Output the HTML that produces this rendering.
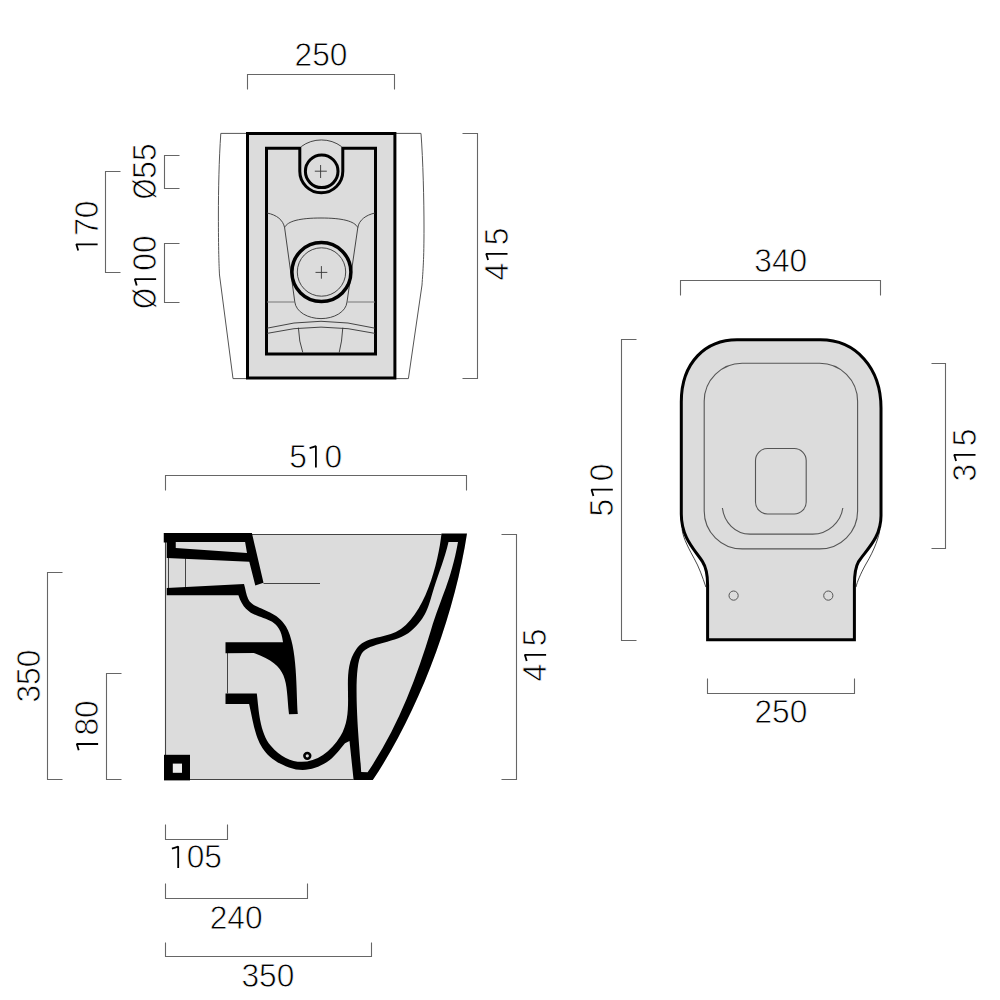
<!DOCTYPE html>
<html><head><meta charset="utf-8">
<style>
html,body{margin:0;padding:0;background:#fff;width:1000px;height:1000px;overflow:hidden}
svg{display:block}
text{font-family:"Liberation Sans",sans-serif;font-size:33px;fill:#000;stroke:#fff;stroke-width:0.75px}
</style></head><body>
<svg width="1000" height="1000" viewBox="0 0 1000 1000">
<!-- ============ TOP VIEW ============ -->
<g id="top">
  <path d="M247.5,133.4 L220.8,133.4 C219,160 218.4,190 218.4,215 C218.4,250 219,265 219.5,275 L233,378.6 L247.5,378.6" fill="none" stroke="#555" stroke-width="1"/>
  <path d="M394.9,133.4 L421,133.4 C423,160 424,200 424,228 C424,260 423,270 422,285 L408.4,378.6 L394.9,378.6" fill="none" stroke="#555" stroke-width="1"/>
  <rect x="247.5" y="133.5" width="147.4" height="244.5" fill="#dcdcdc" stroke="#000" stroke-width="3"/>
  <!-- inner rect with U notch -->
  <path d="M299.8,148.2 L266.5,148.2 L266.5,354 L375.5,354 L375.5,148.2 L342.8,148.2 L342.8,171.3 A21.5,21.5 0 0 1 299.8,171.3 Z" fill="none" stroke="#000" stroke-width="3"/>
  <path d="M301.2,146.6 A34,34 0 0 1 341.6,146.6" fill="none" stroke="#333" stroke-width="0.9"/>
  <circle cx="321.7" cy="171.3" r="16.3" fill="none" stroke="#000" stroke-width="3"/>
  <path d="M314.8,171.2 H326.8 M320.6,165 V178" stroke="#333" stroke-width="0.9"/>
  <!-- funnel -->
  <path d="M267,213 C277,215 283,220 284.6,227.6 C287.5,221 300,218 321,218 C342,218 354.5,221 357.8,227.6 C359,220 366,215 375,213" fill="none" stroke="#333" stroke-width="0.9"/>
  <path d="M284.6,227.6 L294.8,302 C296,312 308,318.6 321,318.6 C334,318.6 346,312 347,302 L357.8,227.6" fill="none" stroke="#333" stroke-width="0.9"/>
  <path d="M267,302 H294.5 M347.3,302 H375" stroke="#777" stroke-width="1"/>
  <circle cx="321.4" cy="272.1" r="29.5" fill="#dcdcdc" stroke="#000" stroke-width="3.5"/>
  <circle cx="321.5" cy="272" r="24.2" fill="none" stroke="#333" stroke-width="0.9"/>
  <path d="M315.5,272.4 H327.3 M321.4,266.1 V278.7" stroke="#333" stroke-width="0.9"/>
  <path d="M267,328.2 A218,218 0 0 1 375,328.2" fill="none" stroke="#333" stroke-width="0.9"/>
  <path d="M267,333.4 A238,238 0 0 1 375,333.4" fill="none" stroke="#333" stroke-width="0.9"/>
  <path d="M298.4,327.7 Q299,342 302.8,352.5 M342.8,327.7 Q342,342 339.2,352.5" fill="none" stroke="#333" stroke-width="0.9"/>
</g>
<!-- top view dims -->
<g fill="none" stroke="#666" stroke-width="1.1">
  <path d="M247.5,89.5 V74.5 H394.5 V89.5"/>
  <path d="M179.5,155.5 H164.5 V188.5 H179.5"/>
  <path d="M179.5,243.5 H164.5 V302.5 H179.5"/>
  <path d="M120.5,171.5 H105.5 V272.5 H120.5"/>
  <path d="M462.5,133.5 H477.5 V378.5 H462.5"/>
</g>


<g id="side">
  <path d="M165.5,534.5 H467 L467.0,533.5 C454.3,616.3 419.0,710.9 372.8,780.1 L165.5,779.5 Z" fill="#dcdcdc"/>
  <path d="M252,534.5 H441.5 M165.5,542 V779.5 H353.6" fill="none" stroke="#444" stroke-width="1.1"/>
  <path d="M168.5,558 V588 M185.5,558 V588 M227.5,653 V693.4 M263.5,583.5 H320" fill="none" stroke="#444" stroke-width="1"/>
  <path fill-rule="evenodd" d="M163.75,533.1 H251.9 L263.5,582.8 L255.3,585.4 L249.3,561.8 L166.75,558 L166.75,542.6 H163.75 Z M175.75,542 H245.1 L247,553.1 L175.75,547.9 Z" fill="#000"/>
  <path d="M166.75,588 L244.0,583.9 C245.5,588.9 246.1,594.3 248.2,599.1 C252.9,609.9 275.1,608.5 286.0,626.4 C297.8,645.9 296.1,692.1 297.8,714.0 L289.0,714.3 C285.6,679.8 289.4,666.1 254.0,653.1 L225.5,653.15 L225.5,642.2 L283.0,642.2 C279.2,607.5 248.7,627.9 238.4,595.2 L166.75,595.25 Z" fill="#000"/>
  <path fill-rule="evenodd" d="M225.5,703.9 L249.1,703.9 C255.8,733.3 256.2,755.5 289.0,767.4 C302.4,772.3 315.0,769.7 327.0,762.1 C333.7,757.8 340.1,749.0 345.0,743.2 L349.5,741 L353.6,780.1 L372.8,780.1 C419.0,710.9 454.3,616.3 467.0,533.5 L441.5,533.5 C438.6,561.8 424.7,617.7 395.8,632.1 C383.0,638.5 365.2,636.5 356.2,649.2 C339.0,673.6 356.7,709.1 340.5,736.0 C323.9,763.6 293.6,772.5 270.8,745.7 C259.6,732.6 258.8,709.5 256.8,693.4 L225.5,693.4 Z M448.5,542.0 C444.9,558.2 438.9,572.3 434.0,588.0 C428.0,607.3 427.0,617.0 411.0,631.0 C397.0,643.3 368.6,642.4 361.6,653.7 C351.0,670.6 360.3,754.1 361.2,772.0 L367.6,772.2 C397.1,729.2 415.9,679.5 431.0,630.0 C441.5,595.6 450.7,582.1 458.0,542.0 Z" fill="#000"/>
  <rect x="164" y="754.8" width="26" height="25.6" fill="#000"/>
  <rect x="172.8" y="763.6" width="9.2" height="9.2" fill="#ececec"/>
  <circle cx="307.3" cy="755.85" r="2.9" fill="none" stroke="#000" stroke-width="2.6"/>
</g>
<g fill="none" stroke="#666" stroke-width="1.1">
  <path d="M165.5,490.5 V475.5 H466.5 V490.5"/>
  <path d="M501.5,534.5 H516.5 V779.5 H501.5"/>
  <path d="M62.5,572.5 H47.5 V779.5 H62.5"/>
  <path d="M121.5,673.5 H106.5 V779.5 H121.5"/>
  <path d="M165.5,824.5 V839.5 H227.5 V824.5"/>
  <path d="M165.5,883.5 V898.5 H307.5 V883.5"/>
  <path d="M165.5,942.5 V956.5 H371.5 V942.5"/>
</g>


<g id="front">
  <path d="M682.1,529.3 C683,536 685.5,542.9 694,558.2 C699,567 702.5,576.9 705.9,587.1" fill="none" stroke="#333" stroke-width="0.9"/>
  <path d="M879.9,529.3 C879,536 875.6,548 865.4,565 C861,573 857,582 856,587.1" fill="none" stroke="#333" stroke-width="0.9"/>
  <path d="M737,339.8 H820.4 C856,339.8 881,368 881,408 V515.7 C881,538 866,550 858.6,561.6 C855.5,567 854.4,574 854.4,585 V639.8 H707.6 V585 C707.6,574 706,567 702.5,561.6 C695,550 681.3,538 681.3,514 V402 C681.3,362 706,339.8 737,339.8 Z" fill="#dcdcdc" stroke="#000" stroke-width="3"/>
  <rect x="704.2" y="363.2" width="153.4" height="185.7" rx="38" ry="38" fill="none" stroke="#555" stroke-width="1.1"/>
  <path d="M722.4,508 C724,522 735,534.1 750.1,534.1 H812.7 C828,534.1 841,522 842.8,508" fill="none" stroke="#555" stroke-width="1.1"/>
  <rect x="755.5" y="448.5" width="50.7" height="65.5" rx="12" ry="12" fill="none" stroke="#555" stroke-width="1.1"/>
  <circle cx="733.6" cy="595.6" r="4.6" fill="none" stroke="#555" stroke-width="1"/>
  <circle cx="828.3" cy="595.6" r="4.6" fill="none" stroke="#555" stroke-width="1"/>
</g>
<g fill="none" stroke="#666" stroke-width="1.1">
  <path d="M680.5,295.5 V280.5 H880.5 V295.5"/>
  <path d="M636.5,339.5 H621.5 V640.5 H636.5"/>
  <path d="M931.5,363.5 H945.5 V548.5 H931.5"/>
  <path d="M707.5,678.5 V693.5 H854.5 V678.5"/>
</g>

<g transform="translate(321.00,54.40)"><text transform="translate(-26.42,11.81) scale(0.96,1)" x="0" y="0">2</text><text transform="translate(-8.81,11.81) scale(0.96,1)" x="0" y="0">5</text><text transform="translate(8.81,11.81) scale(0.96,1)" x="0" y="0">0</text></g>
<g transform="translate(144.10,171.30) rotate(-90)"><text transform="translate(-27.88,11.81) scale(0.8,1)" x="0" y="0">Ø</text><text transform="translate(-7.34,11.81) scale(0.96,1)" x="0" y="0">5</text><text transform="translate(10.27,11.81) scale(0.96,1)" x="0" y="0">5</text></g>
<g transform="translate(144.30,272.10) rotate(-90)"><text transform="translate(-36.69,11.81) scale(0.8,1)" x="0" y="0">Ø</text><path d="M-13.33,-7.59 Q-9.81,-8.59 -7.05,-9.49 V11.81" fill="none" stroke="#000" stroke-width="1.8" stroke-linejoin="bevel"/><text transform="translate(1.46,11.81) scale(0.96,1)" x="0" y="0">0</text><text transform="translate(19.08,11.81) scale(0.96,1)" x="0" y="0">0</text></g>
<g transform="translate(85.80,227.00) rotate(-90)"><path d="M-23.60,-7.59 Q-20.08,-8.59 -17.31,-9.49 V11.81" fill="none" stroke="#000" stroke-width="1.8" stroke-linejoin="bevel"/><text transform="translate(-8.81,11.81) scale(0.96,1)" x="0" y="0">7</text><text transform="translate(8.81,11.81) scale(0.96,1)" x="0" y="0">0</text></g>
<g transform="translate(495.70,254.10) rotate(-90)"><text transform="translate(-26.42,11.81) scale(0.96,1)" x="0" y="0">4</text><path d="M-5.99,-7.59 Q-2.47,-8.59 0.30,-9.49 V11.81" fill="none" stroke="#000" stroke-width="1.8" stroke-linejoin="bevel"/><text transform="translate(8.81,11.81) scale(0.96,1)" x="0" y="0">5</text></g>
<g transform="translate(315.60,455.70)"><text transform="translate(-26.42,11.81) scale(0.96,1)" x="0" y="0">5</text><path d="M-5.99,-7.59 Q-2.47,-8.59 0.30,-9.49 V11.81" fill="none" stroke="#000" stroke-width="1.8" stroke-linejoin="bevel"/><text transform="translate(8.81,11.81) scale(0.96,1)" x="0" y="0">0</text></g>
<g transform="translate(534.30,655.10) rotate(-90)"><text transform="translate(-26.42,11.81) scale(0.96,1)" x="0" y="0">4</text><path d="M-5.99,-7.59 Q-2.47,-8.59 0.30,-9.49 V11.81" fill="none" stroke="#000" stroke-width="1.8" stroke-linejoin="bevel"/><text transform="translate(8.81,11.81) scale(0.96,1)" x="0" y="0">5</text></g>
<g transform="translate(27.80,676.10) rotate(-90)"><text transform="translate(-26.42,11.81) scale(0.96,1)" x="0" y="0">3</text><text transform="translate(-8.81,11.81) scale(0.96,1)" x="0" y="0">5</text><text transform="translate(8.81,11.81) scale(0.96,1)" x="0" y="0">0</text></g>
<g transform="translate(86.30,726.70) rotate(-90)"><path d="M-23.60,-7.59 Q-20.08,-8.59 -17.31,-9.49 V11.81" fill="none" stroke="#000" stroke-width="1.8" stroke-linejoin="bevel"/><text transform="translate(-8.81,11.81) scale(0.96,1)" x="0" y="0">8</text><text transform="translate(8.81,11.81) scale(0.96,1)" x="0" y="0">0</text></g>
<g transform="translate(195.50,856.10)"><path d="M-23.60,-7.59 Q-20.08,-8.59 -17.31,-9.49 V11.81" fill="none" stroke="#000" stroke-width="1.8" stroke-linejoin="bevel"/><text transform="translate(-8.81,11.81) scale(0.96,1)" x="0" y="0">0</text><text transform="translate(8.81,11.81) scale(0.96,1)" x="0" y="0">5</text></g>
<g transform="translate(236.10,916.70)"><text transform="translate(-26.42,11.81) scale(0.96,1)" x="0" y="0">2</text><text transform="translate(-8.81,11.81) scale(0.96,1)" x="0" y="0">4</text><text transform="translate(8.81,11.81) scale(0.96,1)" x="0" y="0">0</text></g>
<g transform="translate(267.90,975.00)"><text transform="translate(-26.42,11.81) scale(0.96,1)" x="0" y="0">3</text><text transform="translate(-8.81,11.81) scale(0.96,1)" x="0" y="0">5</text><text transform="translate(8.81,11.81) scale(0.96,1)" x="0" y="0">0</text></g>
<g transform="translate(780.70,260.10)"><text transform="translate(-26.42,11.81) scale(0.96,1)" x="0" y="0">3</text><text transform="translate(-8.81,11.81) scale(0.96,1)" x="0" y="0">4</text><text transform="translate(8.81,11.81) scale(0.96,1)" x="0" y="0">0</text></g>
<g transform="translate(601.00,490.00) rotate(-90)"><text transform="translate(-26.42,11.81) scale(0.96,1)" x="0" y="0">5</text><path d="M-5.99,-7.59 Q-2.47,-8.59 0.30,-9.49 V11.81" fill="none" stroke="#000" stroke-width="1.8" stroke-linejoin="bevel"/><text transform="translate(8.81,11.81) scale(0.96,1)" x="0" y="0">0</text></g>
<g transform="translate(963.70,455.10) rotate(-90)"><text transform="translate(-26.42,11.81) scale(0.96,1)" x="0" y="0">3</text><path d="M-5.99,-7.59 Q-2.47,-8.59 0.30,-9.49 V11.81" fill="none" stroke="#000" stroke-width="1.8" stroke-linejoin="bevel"/><text transform="translate(8.81,11.81) scale(0.96,1)" x="0" y="0">5</text></g>
<g transform="translate(780.90,711.50)"><text transform="translate(-26.42,11.81) scale(0.96,1)" x="0" y="0">2</text><text transform="translate(-8.81,11.81) scale(0.96,1)" x="0" y="0">5</text><text transform="translate(8.81,11.81) scale(0.96,1)" x="0" y="0">0</text></g>
</svg>
</body></html>
